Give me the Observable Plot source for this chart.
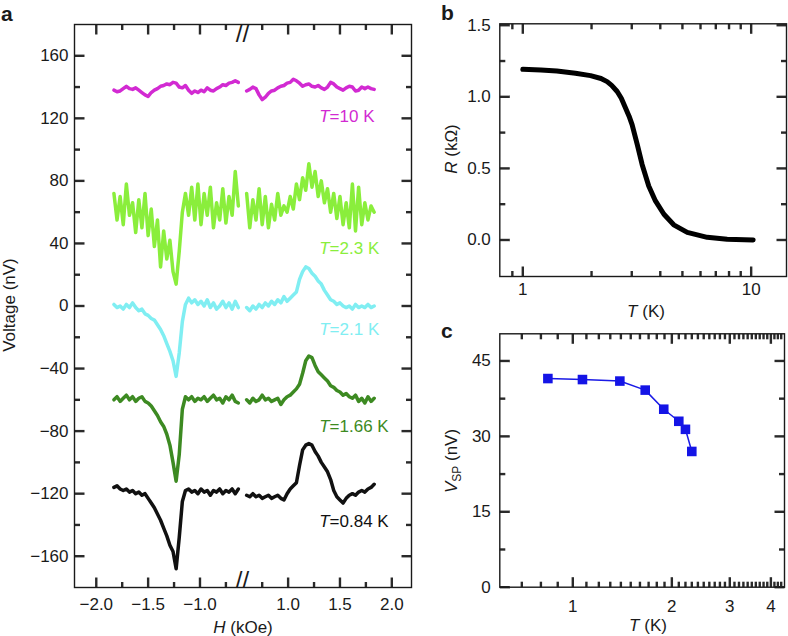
<!DOCTYPE html>
<html><head><meta charset="utf-8">
<script src="https://cdn.jsdelivr.net/npm/d3@7"></script>
<script src="https://cdn.jsdelivr.net/npm/@observablehq/plot@0.6"></script>
<style>
body{margin:0;background:#fff;}
#fig{position:relative;width:788px;height:636px;overflow:hidden;background:#fff;}
#fig svg{position:absolute;}
</style></head><body><div id="fig"></div>
<script>
const FONT = '"Liberation Sans", Arial, Helvetica, sans-serif';
const INK = "#1a1a1a";
const TICK_INK = "#2a2a2a";

// ---------- Panel a: field sweeps (H in kOe, V in nV) ----------
const hLeft = [-1.83,-1.80,-1.77,-1.74,-1.71,-1.68,-1.65,-1.62,-1.59,-1.56,-1.53,-1.50,-1.47,-1.44,-1.41,-1.38,-1.35,-1.32,-1.29,-1.26,-1.23,-1.20,-1.17,-1.14,-1.11,-1.08,-1.05,-1.02,-0.99,-0.96,-0.93,-0.90,-0.87,-0.84,-0.81,-0.78,-0.75,-0.72,-0.69,-0.66,-0.63];
const hRight = [0.60,0.63,0.66,0.69,0.72,0.75,0.78,0.81,0.84,0.87,0.90,0.93,0.96,0.99,1.02,1.05,1.08,1.11,1.14,1.17,1.20,1.23,1.26,1.29,1.32,1.35,1.38,1.41,1.44,1.47,1.50,1.53,1.56,1.59,1.62,1.65,1.68,1.71,1.74,1.77,1.80,1.83];

const v10L = [138,137,137.5,139,140.5,139,138.5,139.5,138,136.5,135,134,136.5,138,139,140.5,141,142,141.5,143,142.5,140,139.5,141,138,136,137.5,136.5,138,137,139.5,138,137.5,139,140,141.5,141,142.5,143,144,143];
const v10R = [137.5,138.5,140,139,135,132,133.5,136,137.5,138,139.5,140.5,141,142.5,143,145,144,142.5,140.5,141.5,142,140.5,140,141,139.5,138.5,140,143,142,140,139,138,139.5,140.5,140,137.5,138,140,139,140,139,138.5];
const v23L = [72,55,70,52,78,58,66,47,68,50,72,45,62,38,55,25,48,30,42,22,14,35,60,72,58,76,55,78,52,72,58,76,50,66,55,75,53,70,58,86,64];
const v23R = [72,50,68,55,75,52,70,50,65,55,72,58,64,60,70,62,78,68,82,74,91,76,86,70,80,66,75,60,72,56,70,52,66,50,78,48,76,52,66,55,64,60];
const v21L = [1,-1,0,-2,1,-1,2,-1,-3,-2,-5,-6,-8,-9,-12,-15,-19,-24,-29,-35,-45,-30,-10,1,5,2,4,1,3,0,4,-1,2,-2,0,3,-1,2,-2,3,-1];
const v21R = [-1,-3,0,-2,1,-1,2,0,3,1,4,2,6,3,5,7,9,17,22,25,24,21,19,16,14,10,7,4,3,1,2,0,-1,0,-2,1,-1,0,-1,1,-1,0];
const v166L = [-60,-58,-61,-59,-57,-60,-58,-61,-59,-58,-61,-62,-64,-67,-70,-74,-77,-82,-89,-100,-112,-95,-66,-58,-60,-58,-61,-59,-60,-58,-61,-59,-57,-60,-59,-62,-58,-60,-57,-61,-62];
const v166R = [-60,-62,-59,-61,-60,-57,-60,-59,-61,-60,-59,-63,-60,-58,-57,-55,-53,-50,-43,-35,-32,-33,-38,-42,-44,-46,-48,-51,-52,-54,-55,-57,-56,-58,-59,-57,-61,-59,-62,-58,-61,-59];
const v084L = [-116,-115,-117,-118,-117,-119,-118,-120,-119,-121,-120,-123,-126,-129,-133,-137,-142,-147,-153,-157,-168,-148,-125,-118,-117,-119,-118,-120,-117,-119,-118,-121,-118,-119,-117,-120,-118,-119,-117,-120,-117];
const v084R = [-121,-122,-120,-122,-121,-123,-122,-121,-123,-122,-121,-123,-124,-120,-117,-115,-113,-102,-92,-89,-88,-89,-93,-96,-100,-103,-106,-111,-118,-122,-124,-126,-123,-121,-120,-121,-119,-118,-119,-117,-116,-114];

const seriesTemps = ["10", "2.3", "2.1", "1.66", "0.84"];
const seriesColors = ["#d22ad2", "#8aee3c", "#80eef2", "#3d8a22", "#111111"];
const labelV = [121, 37, -15, -77, -138];
const labelH = 1.40;

const yMajA = [-160,-120,-80,-40,0,40,80,120,160];
const yMinA = [-140,-100,-60,-20,20,60,100,140];
const xMajA = [-2.0,-1.5,-1.0,1.0,1.5,2.0];
const xMinA = [-1.75,-1.25,-0.75,0.75,1.25,1.75];

// ---------- Panel b: R(T) ----------
const tR = [1.0,1.2,1.41,1.7,1.98,2.2,2.34,2.45,2.59,2.7,2.82,2.92,3.01,3.17,3.33,3.56,3.81,4.15,4.58,5.25,6.42,7.85,10.2];
const rR = [1.192,1.188,1.18,1.165,1.148,1.128,1.106,1.08,1.037,0.99,0.92,0.865,0.806,0.667,0.528,0.377,0.273,0.18,0.106,0.053,0.0185,0.005,0.0];
const yMajB = [0, 0.5, 1.0, 1.5];
const yMinB = [0.25, 0.75, 1.25];
const xMajB = [1, 10];
const xMinB = [0.9, 2, 3, 4, 5, 6, 7, 8, 9];

// ---------- Panel c: V_SP(T) ----------
const tV = [0.84, 1.07, 1.39, 1.66, 1.89, 2.1, 2.2, 2.3];
const vSP = [41.5, 41.3, 41.0, 39.2, 35.4, 33.0, 31.4, 27.0];
const yMajC = [0, 15, 30, 45];
const yMinC = [7.5, 22.5, 37.5];
const xMajC = [1, 2, 3, 4];
const xMinC = [0.7,0.8,0.9,1.1,1.2,1.3,1.4,1.5,1.6,1.7,1.8,1.9,2.1,2.2,2.3,2.4,2.5,2.6,2.7,2.8,2.9,3.1,3.2,3.3,3.4,3.5,3.6,3.7,3.8,3.9,4.1,4.2,4.3];

const baseStyle = {fontFamily: FONT, fontSize: "17px", color: INK, overflow: "visible"};
const tickW = 2.4, MAJ = 10, MIN = 5.5;

// inward ticks on all four sides (link marks through the plot scales), labels, frame
function boxAxes(sx, sy, xMaj, xMin, yMaj, yMin, xFmt, yFmt, xPad, yPad) {
  const step = (s, len, dir) => {
    if (s.log) { const k = Math.pow(s.hi / s.lo, len / s.px); return dir > 0 ? s.lo * k : s.hi / k; }
    const d = (s.hi - s.lo) * len / s.px; return dir > 0 ? s.lo + d : s.hi - d;
  };
  const segs = [];
  [[yMaj, MAJ], [yMin, MIN]].forEach(([vals, len]) => vals.forEach(v => {
    segs.push({x1: sx.lo, x2: step(sx, len, 1), y1: v, y2: v});
    segs.push({x1: step(sx, len, -1), x2: sx.hi, y1: v, y2: v});
  }));
  [[xMaj, MAJ], [xMin, MIN]].forEach(([vals, len]) => vals.forEach(v => {
    segs.push({x1: v, x2: v, y1: sy.lo, y2: step(sy, len, 1)});
    segs.push({x1: v, x2: v, y1: step(sy, len, -1), y2: sy.hi});
  }));
  return [
    Plot.link(segs, {x1: "x1", y1: "y1", x2: "x2", y2: "y2", stroke: TICK_INK, strokeWidth: tickW, strokeLinecap: "butt"}),
    Plot.axisY(yMaj, {anchor: "left", tickSize: 0, tickPadding: yPad, tickFormat: yFmt, label: null}),
    Plot.axisX(xMaj, {anchor: "bottom", tickSize: 0, tickPadding: xPad, tickFormat: xFmt, label: null}),
    Plot.frame({stroke: INK, strokeWidth: 1.4})
  ];
}

// ----- Panel a -----
const leftVals = [v10L, v23L, v21L, v166L, v084L];
const rightVals = [v10R, v23R, v21R, v166R, v084R];
const marksA = [];
seriesTemps.forEach((t, i) => {
  const L = hLeft.map((h, j) => ({h, v: leftVals[i][j]}));
  const R = hRight.map((h, j) => ({h, v: rightVals[i][j]}));
  const lineOpts = {x: "h", y: "v", stroke: seriesColors[i], strokeWidth: 3.5, strokeLinejoin: "round", strokeLinecap: "round"};
  marksA.push(Plot.line(L, lineOpts), Plot.line(R, lineOpts));
  const lab = [{h: labelH, v: labelV[i]}];
  marksA.push(Plot.text(lab, {x: "h", y: "v", text: () => "T", fontStyle: "italic", textAnchor: "end", fill: seriesColors[i], fontSize: 17}));
  marksA.push(Plot.text(lab, {x: "h", y: "v", text: () => "=" + t + " K", textAnchor: "start", fill: seriesColors[i], fontSize: 17}));
});
const fmtA = d3.format(".1f");
const plotA = Plot.plot({
  width: 440, height: 636, marginTop: 24, marginBottom: 49, marginLeft: 74, marginRight: 29,
  x: {type: "linear", domain: [-2.21, -0.59, 0.56, 2.19], range: [74, 242, 242, 411]},
  y: {domain: [-180, 180]},
  style: baseStyle,
  marks: [
    ...marksA,
    ...boxAxes({lo: -2.21, hi: 2.19, px: 168 / 1.62 * 4.4}, {lo: -180, hi: 180, px: 563},
      xMajA, xMinA, yMajA, yMinA, d => fmtA(d), d3.format("d"), 10, 6),
    Plot.text([0], {x: d => d, frameAnchor: "top", text: () => "//", fontSize: 24, fill: INK}),
    Plot.text([0], {x: d => d, frameAnchor: "bottom", text: () => "//", fontSize: 24, fill: INK})
  ]
});

// ----- Panel b -----
const plotB = Plot.plot({
  width: 348, height: 330, marginTop: 23.3, marginBottom: 54, marginLeft: 59.3, marginRight: 2,
  x: {type: "log", domain: [0.793, 14.28]},
  y: {domain: [-0.255, 1.51]},
  style: baseStyle,
  marks: [
    Plot.line(tR.map((t, i) => ({t, r: rR[i]})), {x: "t", y: "r", stroke: "#000", strokeWidth: 5, strokeLinejoin: "round"}),
    ...boxAxes({lo: 0.793, hi: 14.28, px: 286.7, log: true}, {lo: -0.255, hi: 1.51, px: 252.7},
      xMajB, xMinB, yMajB, yMinB, d => String(d), d3.format(".1f"), 6, 9)
  ]
});

// ----- Panel c -----
const dataC = tV.map((t, i) => ({t, v: vSP[i]}));
const plotC = Plot.plot({
  width: 348, height: 318, marginTop: 15.3, marginBottom: 49.3, marginLeft: 59.3, marginRight: 4,
  x: {type: "log", domain: [0.6, 4.4]},
  y: {domain: [0, 50.4]},
  style: baseStyle,
  marks: [
    Plot.line(dataC, {x: "t", y: "v", stroke: "#1a1ae6", strokeWidth: 1.5}),
    Plot.dot(dataC, {x: "t", y: "v", symbol: "square", r: 5.4, fill: "#1414e6", stroke: "none"}),
    ...boxAxes({lo: 0.6, hi: 4.4, px: 284.7, log: true}, {lo: 0, hi: 50.4, px: 253.4},
      xMajC, xMinC, yMajC, yMinC, d => String(d), d3.format("d"), 13, 9)
  ]
});

const fig = document.getElementById("fig");
[[plotA, 0, 0], [plotB, 440, 0], [plotC, 440, 318]].forEach(([p, l, t]) => {
  p.style.position = "absolute";
  p.style.left = l + "px";
  p.style.top = t + "px";
  fig.appendChild(p);
});

// ----- overlay: panel letters and axis titles -----
const ov = d3.select(fig).append("svg")
  .attr("width", 788).attr("height", 636)
  .style("position", "absolute").style("left", "0px").style("top", "0px")
  .style("pointer-events", "none")
  .attr("font-family", FONT).attr("fill", INK);

[["a", 1, 20.5], ["b", 441, 20], ["c", 441, 338]].forEach(([s, x, y]) => {
  ov.append("text").attr("x", x).attr("y", y).attr("font-size", 21).attr("font-weight", "bold").text(s);
});

function title(x, y, rot, parts) {
  const t = ov.append("text").attr("transform", `translate(${x},${y})` + (rot ? " rotate(-90)" : ""))
    .attr("text-anchor", "middle").attr("font-size", 17);
  parts.forEach(p => {
    const s = t.append("tspan").text(p.text);
    if (p.italic) s.attr("font-style", "italic");
    if (p.size) s.attr("font-size", p.size);
    if (p.dy) s.attr("dy", p.dy);
  });
}
title(15, 305, true, [{text: "Voltage (nV)"}]);
title(243, 633, false, [{text: "H", italic: true}, {text: " (kOe)"}]);
title(457, 149, true, [{text: "R", italic: true}, {text: " (kΩ)"}]);
title(646, 317, false, [{text: "T", italic: true}, {text: " (K)"}]);
title(457, 461, true, [{text: "V", italic: true}, {text: "SP", size: 12, dy: 4}, {text: " (nV)", dy: -4}]);
title(648, 631, false, [{text: "T", italic: true}, {text: " (K)"}]);
</script></body></html>
